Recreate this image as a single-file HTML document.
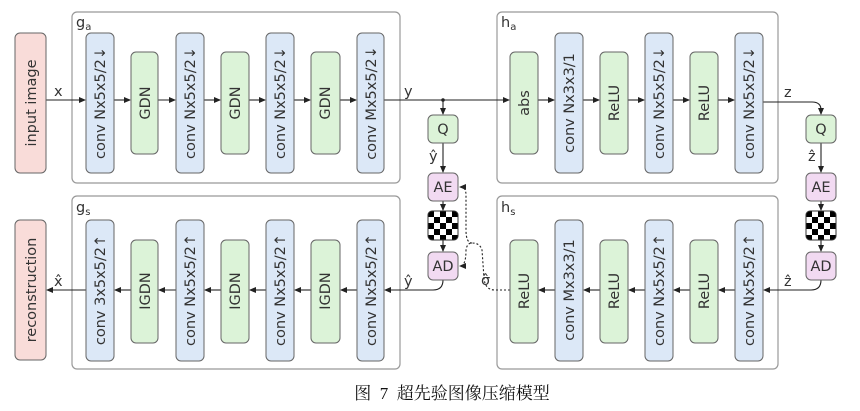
<!DOCTYPE html>
<html><head><meta charset="utf-8"><style>
html,body{margin:0;padding:0;background:#fff}
svg{display:block}
text{font-family:"DejaVu Sans","Liberation Sans",sans-serif;font-size:14.5px;fill:#333}
.cv{fill:#dce8f7;stroke:#666;stroke-width:1}
.gr{fill:#dcf3d8;stroke:#666;stroke-width:1}
.pk{fill:#f9dcd9;stroke:#666;stroke-width:1}
.pu{fill:#f2daf2;stroke:#666;stroke-width:1}
.pn{fill:#fff;stroke:#999;stroke-width:1.2}
.ln{stroke:#222;stroke-width:1.1;fill:none}
.dt{stroke:#222;stroke-width:1.1;fill:none;stroke-dasharray:2 2}
</style></head><body>
<svg width="860" height="411" viewBox="0 0 860 411" xmlns="http://www.w3.org/2000/svg">
<defs>
<marker id="a" markerWidth="7" markerHeight="6" refX="6" refY="3" orient="auto" markerUnits="userSpaceOnUse"><path d="M0,0 L7,3 L0,6 z" fill="#222"/></marker>
<pattern id="ck" x="428" y="211" width="12" height="12" patternUnits="userSpaceOnUse"><rect width="12" height="12" fill="#fff"/><rect width="6" height="6" fill="#000"/><rect x="6" y="6" width="6" height="6" fill="#000"/></pattern>
<pattern id="ck2" x="806" y="211" width="12" height="12" patternUnits="userSpaceOnUse"><rect width="12" height="12" fill="#fff"/><rect width="6" height="6" fill="#000"/><rect x="6" y="6" width="6" height="6" fill="#000"/></pattern>
</defs>
<!-- panels -->
<rect class="pn" x="72" y="12" width="328" height="171" rx="5"/>
<rect class="pn" x="497" y="12" width="281" height="171" rx="5"/>
<rect class="pn" x="72" y="196" width="328" height="173" rx="5"/>
<rect class="pn" x="497" y="196" width="281" height="173" rx="5"/>
<text x="76" y="27">g<tspan font-size="10" dy="3">a</tspan></text>
<text x="501" y="27">h<tspan font-size="10" dy="3">a</tspan></text>
<text x="76" y="212">g<tspan font-size="10" dy="3">s</tspan></text>
<text x="501" y="212">h<tspan font-size="10" dy="3">s</tspan></text>

<!-- top lines -->
<line class="ln" x1="46" y1="100" x2="85" y2="100" marker-end="url(#a)"/>
<line class="ln" x1="114" y1="100" x2="130" y2="100" marker-end="url(#a)"/>
<line class="ln" x1="158" y1="100" x2="175" y2="100" marker-end="url(#a)"/>
<line class="ln" x1="204" y1="100" x2="220" y2="100" marker-end="url(#a)"/>
<line class="ln" x1="249" y1="100" x2="265" y2="100" marker-end="url(#a)"/>
<line class="ln" x1="294" y1="100" x2="310" y2="100" marker-end="url(#a)"/>
<line class="ln" x1="340" y1="100" x2="356" y2="100" marker-end="url(#a)"/>
<line class="ln" x1="384" y1="100" x2="509" y2="100" marker-end="url(#a)"/>
<circle cx="443" cy="100" r="1.8" fill="#222"/>
<line class="ln" x1="443" y1="100" x2="443" y2="114" marker-end="url(#a)"/>
<line class="ln" x1="538" y1="100" x2="554" y2="100" marker-end="url(#a)"/>
<line class="ln" x1="583" y1="100" x2="599" y2="100" marker-end="url(#a)"/>
<line class="ln" x1="628" y1="100" x2="644" y2="100" marker-end="url(#a)"/>
<line class="ln" x1="673" y1="100" x2="689" y2="100" marker-end="url(#a)"/>
<line class="ln" x1="718" y1="100" x2="734" y2="100" marker-end="url(#a)"/>
<path class="ln" d="M763,102 L812,102 Q821,102 821,110 L821,114" marker-end="url(#a)"/>
<text x="54" y="96">x</text>
<text x="404" y="96">y</text>
<text x="784" y="97">z</text>

<!-- left Q column -->
<line class="ln" x1="443" y1="143" x2="443" y2="172" marker-end="url(#a)"/>
<line class="ln" x1="443" y1="201" x2="443" y2="210" marker-end="url(#a)"/>
<line class="ln" x1="443" y1="240" x2="443" y2="251" marker-end="url(#a)"/>
<path class="ln" d="M443,280 Q443,290 433,290 L385,290" marker-end="url(#a)"/>
<text x="429" y="161">ŷ</text>
<text x="404" y="286">ŷ</text>
<!-- right column -->
<line class="ln" x1="821" y1="143" x2="821" y2="172" marker-end="url(#a)"/>
<line class="ln" x1="821" y1="201" x2="821" y2="210" marker-end="url(#a)"/>
<line class="ln" x1="821" y1="240" x2="821" y2="251" marker-end="url(#a)"/>
<path class="ln" d="M821,280 Q821,290 811,290 L764,290" marker-end="url(#a)"/>
<text x="808" y="161">ẑ</text>
<text x="784" y="286">ẑ</text>
<!-- dotted -->
<path class="dt" d="M510,290 L495,290 Q485,290 484,278 L482,250 Q480,243 472,243 Q467,243 466,250 Q466,266 460,266" marker-end="url(#a)"/>
<path class="dt" d="M472,243 Q466,243 466,230 L466,195 Q466,187 460,187" marker-end="url(#a)"/>
<text x="481" y="285">σ̂</text>

<!-- bottom lines -->
<line class="ln" x1="86" y1="290" x2="47" y2="290" marker-end="url(#a)"/>
<line class="ln" x1="131" y1="290" x2="115" y2="290" marker-end="url(#a)"/>
<line class="ln" x1="176" y1="290" x2="159" y2="290" marker-end="url(#a)"/>
<line class="ln" x1="221" y1="290" x2="205" y2="290" marker-end="url(#a)"/>
<line class="ln" x1="266" y1="290" x2="250" y2="290" marker-end="url(#a)"/>
<line class="ln" x1="311" y1="290" x2="295" y2="290" marker-end="url(#a)"/>
<line class="ln" x1="357" y1="290" x2="341" y2="290" marker-end="url(#a)"/>
<line class="ln" x1="555" y1="290" x2="539" y2="290" marker-end="url(#a)"/>
<line class="ln" x1="600" y1="290" x2="584" y2="290" marker-end="url(#a)"/>
<line class="ln" x1="645" y1="290" x2="629" y2="290" marker-end="url(#a)"/>
<line class="ln" x1="690" y1="290" x2="674" y2="290" marker-end="url(#a)"/>
<line class="ln" x1="735" y1="290" x2="719" y2="290" marker-end="url(#a)"/>
<text x="54" y="286">x̂</text>

<!-- top boxes -->
<rect class="pk" x="15" y="33" width="31" height="140" rx="5"/>
<rect class="cv" x="86" y="33" width="28" height="140" rx="5"/>
<rect class="gr" x="131" y="52" width="27" height="102" rx="5"/>
<rect class="cv" x="176" y="33" width="28" height="140" rx="5"/>
<rect class="gr" x="221" y="52" width="28" height="102" rx="5"/>
<rect class="cv" x="266" y="33" width="28" height="140" rx="5"/>
<rect class="gr" x="311" y="52" width="29" height="102" rx="5"/>
<rect class="cv" x="357" y="33" width="27" height="140" rx="5"/>
<rect class="gr" x="510" y="52" width="28" height="102" rx="5"/>
<rect class="cv" x="555" y="33" width="28" height="140" rx="5"/>
<rect class="gr" x="600" y="52" width="28" height="102" rx="5"/>
<rect class="cv" x="645" y="33" width="28" height="140" rx="5"/>
<rect class="gr" x="690" y="52" width="28" height="102" rx="5"/>
<rect class="cv" x="735" y="33" width="28" height="140" rx="5"/>

<g text-anchor="middle">
<text transform="translate(36,103) rotate(-90)">input image</text>
<text transform="translate(105,103) rotate(-90)">conv Nx5x5/2↓</text>
<text transform="translate(150,103) rotate(-90)">GDN</text>
<text transform="translate(195,103) rotate(-90)">conv Nx5x5/2↓</text>
<text transform="translate(240,103) rotate(-90)">GDN</text>
<text transform="translate(285,103) rotate(-90)">conv Nx5x5/2↓</text>
<text transform="translate(330,103) rotate(-90)">GDN</text>
<text transform="translate(376,103) rotate(-90)">conv Mx5x5/2↓</text>
<text transform="translate(529,103) rotate(-90)">abs</text>
<text transform="translate(574,103) rotate(-90)">conv Nx3x3/1</text>
<text transform="translate(619,103) rotate(-90)">ReLU</text>
<text transform="translate(664,103) rotate(-90)">conv Nx5x5/2↓</text>
<text transform="translate(709,103) rotate(-90)">ReLU</text>
<text transform="translate(754,103) rotate(-90)">conv Nx5x5/2↓</text>
</g>

<!-- bottom boxes -->
<rect class="pk" x="15" y="220" width="31" height="140" rx="5"/>
<rect class="cv" x="86" y="220" width="28" height="141" rx="5"/>
<rect class="gr" x="131" y="240" width="27" height="103" rx="5"/>
<rect class="cv" x="176" y="220" width="28" height="141" rx="5"/>
<rect class="gr" x="221" y="240" width="28" height="103" rx="5"/>
<rect class="cv" x="266" y="220" width="28" height="141" rx="5"/>
<rect class="gr" x="311" y="240" width="29" height="103" rx="5"/>
<rect class="cv" x="357" y="220" width="27" height="141" rx="5"/>
<rect class="gr" x="510" y="240" width="28" height="103" rx="5"/>
<rect class="cv" x="555" y="220" width="28" height="141" rx="5"/>
<rect class="gr" x="600" y="240" width="28" height="103" rx="5"/>
<rect class="cv" x="645" y="220" width="28" height="141" rx="5"/>
<rect class="gr" x="690" y="240" width="28" height="103" rx="5"/>
<rect class="cv" x="735" y="220" width="28" height="141" rx="5"/>
<g text-anchor="middle">
<text transform="translate(36,290) rotate(-90)">reconstruction</text>
<text transform="translate(105,290) rotate(-90)">conv 3x5x5/2↑</text>
<text transform="translate(150,291) rotate(-90)">IGDN</text>
<text transform="translate(195,290) rotate(-90)">conv Nx5x5/2↑</text>
<text transform="translate(240,291) rotate(-90)">IGDN</text>
<text transform="translate(285,290) rotate(-90)">conv Nx5x5/2↑</text>
<text transform="translate(330,291) rotate(-90)">IGDN</text>
<text transform="translate(376,290) rotate(-90)">conv Nx5x5/2↑</text>
<text transform="translate(529,291) rotate(-90)">ReLU</text>
<text transform="translate(574,290) rotate(-90)">conv Mx3x3/1</text>
<text transform="translate(619,291) rotate(-90)">ReLU</text>
<text transform="translate(664,290) rotate(-90)">conv Nx5x5/2↑</text>
<text transform="translate(709,291) rotate(-90)">ReLU</text>
<text transform="translate(754,290) rotate(-90)">conv Nx5x5/2↑</text>
</g>

<!-- Q/AE/AD -->
<rect class="gr" x="428" y="115" width="30" height="28" rx="5"/>
<rect class="pu" x="428" y="173" width="30" height="28" rx="5"/>
<rect x="428" y="211" width="30" height="29" rx="4" fill="url(#ck)" stroke="#333"/>
<rect class="pu" x="428" y="252" width="30" height="28" rx="5"/>
<rect class="gr" x="806" y="115" width="30" height="28" rx="5"/>
<rect class="pu" x="806" y="173" width="30" height="28" rx="5"/>
<rect x="806" y="211" width="30" height="29" rx="4" fill="url(#ck2)" stroke="#333"/>
<rect class="pu" x="806" y="252" width="30" height="28" rx="5"/>
<g text-anchor="middle">
<text x="443" y="134">Q</text><text x="443" y="192">AE</text><text x="443" y="271">AD</text>
<text x="821" y="134">Q</text><text x="821" y="192">AE</text><text x="821" y="271">AD</text>
</g>

<text x="452" y="399" text-anchor="middle" style="font-family:'Liberation Serif','Noto Serif CJK SC',serif;font-size:17px;fill:#111" xml:space="preserve">图  7  超先验图像压缩模型</text>
</svg>
</body></html>
